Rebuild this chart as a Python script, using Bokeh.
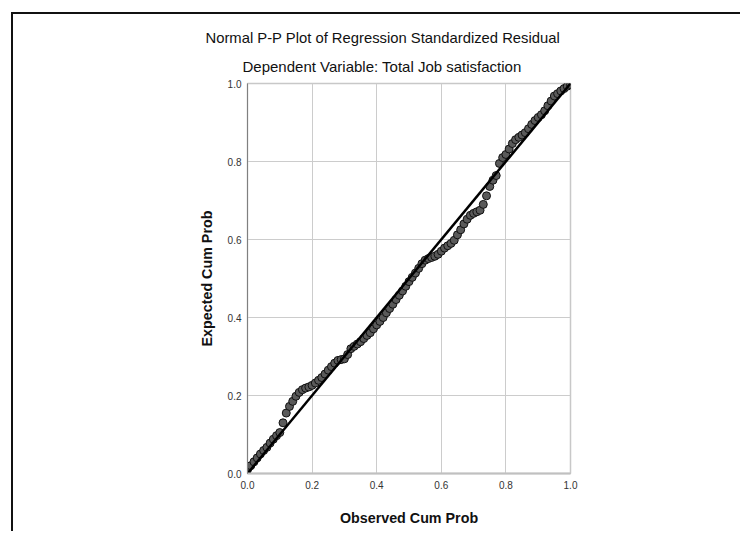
from bokeh.plotting import figure
from bokeh.models import Range1d, FixedTicker, NumeralTickFormatter, Title, ColumnDataSource
from bokeh.embed import file_html
from bokeh.resources import INLINE

# Observed cumulative probability (x) and expected cumulative probability (y)
observed_cum_prob = [
    0.00, 0.01, 0.02, 0.03, 0.04, 0.05, 0.06, 0.07, 0.08, 0.09,
    0.10, 0.11, 0.12, 0.13, 0.14, 0.15, 0.16, 0.17, 0.18, 0.19,
    0.20, 0.21, 0.22, 0.23, 0.24, 0.25, 0.26, 0.27, 0.28, 0.29,
    0.30, 0.31, 0.32, 0.33, 0.34, 0.35, 0.36, 0.37, 0.38, 0.39,
    0.40, 0.41, 0.42, 0.43, 0.44, 0.45, 0.46, 0.47, 0.48, 0.49,
    0.50, 0.51, 0.52, 0.53, 0.54, 0.55, 0.56, 0.57, 0.58, 0.59,
    0.60, 0.61, 0.62, 0.63, 0.64, 0.65, 0.66, 0.67, 0.68, 0.69,
    0.70, 0.71, 0.72, 0.73, 0.74, 0.75, 0.76, 0.77, 0.78, 0.79,
    0.80, 0.81, 0.82, 0.83, 0.84, 0.85, 0.86, 0.87, 0.88, 0.89,
    0.90, 0.91, 0.92, 0.93, 0.94, 0.95, 0.96, 0.97, 0.98, 0.99, 1.00,
]
expected_cum_prob = [
    0.010, 0.020, 0.030, 0.040, 0.050, 0.059, 0.067, 0.078, 0.088, 0.097,
    0.105, 0.130, 0.155, 0.172, 0.185, 0.198, 0.208, 0.215, 0.219, 0.222,
    0.226, 0.232, 0.239, 0.246, 0.255, 0.265, 0.274, 0.283, 0.290, 0.292,
    0.294, 0.305, 0.320, 0.326, 0.332, 0.338, 0.346, 0.354, 0.361, 0.371,
    0.381, 0.390, 0.400, 0.412, 0.423, 0.434, 0.446, 0.457, 0.468, 0.480,
    0.492, 0.503, 0.514, 0.526, 0.538, 0.547, 0.551, 0.554, 0.557, 0.562,
    0.570, 0.578, 0.584, 0.590, 0.598, 0.612, 0.625, 0.640, 0.652, 0.662,
    0.667, 0.671, 0.675, 0.690, 0.712, 0.736, 0.752, 0.764, 0.795, 0.810,
    0.818, 0.832, 0.846, 0.856, 0.862, 0.868, 0.874, 0.884, 0.895, 0.905,
    0.913, 0.920, 0.930, 0.943, 0.955, 0.968, 0.974, 0.981, 0.987, 0.993, 0.997,
]
reference_x = [0.0, 1.0]
reference_y = [0.0, 1.0]
tick_values = [0.0, 0.2, 0.4, 0.6, 0.8, 1.0]

title_text = "Normal P-P Plot of Regression Standardized Residual"
subtitle_text = "Dependent Variable: Total Job satisfaction"
x_label = "Observed Cum Prob"
y_label = "Expected Cum Prob"

FONT = "Liberation Sans"

p = figure(width=729, height=519, output_backend="svg", toolbar_location=None,
           title_location=None,
           x_range=Range1d(0, 1), y_range=Range1d(0, 1),
           min_border_left=234, min_border_right=172,
           min_border_top=69, min_border_bottom=60)
p.margin = (12, 0, 0, 11)
p.styles = {"border-left": "2px solid #111111", "border-top": "2px solid #111111"}
p.background_fill_color = "white"
p.border_fill_color = "white"
p.outline_line_color = "#c8c8c8"
p.outline_line_width = 1.5

sub = Title(text=subtitle_text, align="left", offset=-5, text_font=FONT,
            text_font_size="15px", text_font_style="normal", text_color="#111111",
            standoff=18)
p.add_layout(sub, "above")
main = Title(text=title_text, align="left", offset=-42, text_font=FONT,
             text_font_size="14.8px", text_font_style="normal", text_color="#111111",
             standoff=2)
p.add_layout(main, "above")

for ax in (p.xaxis[0], p.yaxis[0]):
    ax.ticker = FixedTicker(ticks=tick_values)
    ax.formatter = NumeralTickFormatter(format="0.0")
    ax.major_tick_line_color = None
    ax.minor_tick_line_color = None
    ax.major_tick_out = 0
    ax.major_tick_in = 0
    ax.major_label_text_font = FONT
    ax.major_label_text_font_size = "10px"
    ax.major_label_text_color = "#333333"
    ax.axis_label_text_font = FONT
    ax.axis_label_text_font_size = "14.3px"
    ax.axis_label_text_font_style = "bold"
    ax.axis_label_text_color = "#111111"

p.xaxis.axis_label = x_label
p.yaxis.axis_label = y_label
p.xaxis.axis_line_color = "#c0c0c0"
p.xaxis.axis_line_width = 2
p.yaxis.axis_line_color = "#808080"
p.yaxis.axis_line_width = 1
p.xaxis.major_label_standoff = 7
p.yaxis.major_label_standoff = 6
p.xaxis.axis_label_standoff = 18
p.yaxis.axis_label_standoff = 10

p.xgrid.ticker = FixedTicker(ticks=tick_values)
p.ygrid.ticker = FixedTicker(ticks=tick_values)
p.xgrid.grid_line_color = "#cccccc"
p.ygrid.grid_line_color = "#cccccc"
p.xgrid.grid_line_width = 1
p.ygrid.grid_line_width = 1

src = ColumnDataSource(dict(x=observed_cum_prob, y=expected_cum_prob))
p.scatter("x", "y", source=src, size=8, fill_color="#5a5a5a", line_color="#111111",
          line_width=1)
p.line(reference_x, reference_y, line_color="black", line_width=2.5)

open("out.html", "w").write(file_html(p, INLINE))
